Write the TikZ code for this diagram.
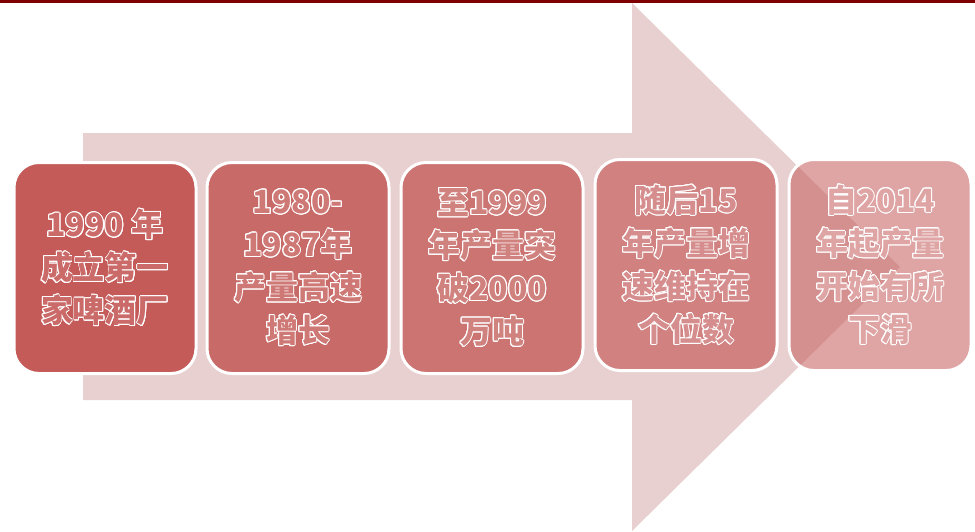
\documentclass[tikz,border=0pt]{standalone}
\usepackage{fontspec}
\usepackage[copies]{contour}
\newfontfamily\cjk{Noto Sans CJK SC}
\contourlength{1pt}
\contournumber{16}
\definecolor{topline}{HTML}{7F0000}
\definecolor{arrowc}{HTML}{E8D0D0}
\definecolor{bxa}{HTML}{C45B58}
\definecolor{bxb}{HTML}{C86A67}
\definecolor{bxc}{HTML}{CB7471}
\definecolor{bxd}{HTML}{D08180}
\definecolor{bxe}{HTML}{C45B5B}
\newcommand{\olt}[2]{\contour{white}{\textcolor{#1}{#2}}}
\tikzset{
  stagebox/.style={draw=white, line width=3pt, rounded corners=25pt,
    minimum width=182pt, minimum height=211pt, inner sep=0pt,
    align=center, font=\cjk\bfseries\fontsize{32}{43}\selectfont}
}
\begin{document}
\begin{tikzpicture}[x=1pt,y=-1pt]
\useasboundingbox (0,0) rectangle (975,531);
\fill[topline] (0,0) rectangle (975,3);
\fill[arrowc] (83,133) -- (632,133) -- (632,3) -- (900,267) -- (632,531) -- (632,400) -- (83,400) -- cycle;
\node[stagebox, fill=bxa] (b1) at (105,268)
  {\olt{bxa!90!white}{1990 年}\\ \olt{bxa!90!white}{成立第一}\\ \olt{bxa!90!white}{家啤酒厂}};
\node[stagebox, fill=bxb] (b2) at (298,268)
  {\olt{bxb!90!white}{1980-}\\ \olt{bxb!90!white}{1987年}\\ \olt{bxb!90!white}{产量高速}\\ \olt{bxb!90!white}{增长}};
\node[stagebox, fill=bxc] (b3) at (492,268)
  {\olt{bxc!90!white}{至1999}\\ \olt{bxc!90!white}{年产量突}\\ \olt{bxc!90!white}{破2000}\\ \olt{bxc!90!white}{万吨}};
\node[stagebox, fill=bxd] (b4) at (686,265)
  {\olt{bxd!90!white}{随后15}\\ \olt{bxd!90!white}{年产量增}\\ \olt{bxd!90!white}{速维持在}\\ \olt{bxd!90!white}{个位数}};
\node[stagebox, fill=bxe, fill opacity=0.55, text opacity=1] (b5) at (880,265)
  {\olt{bxe!55!white}{自2014}\\ \olt{bxe!55!white}{年起产量}\\ \olt{bxe!55!white}{开始有所}\\ \olt{bxe!55!white}{下滑}};
\end{tikzpicture}
\end{document}
